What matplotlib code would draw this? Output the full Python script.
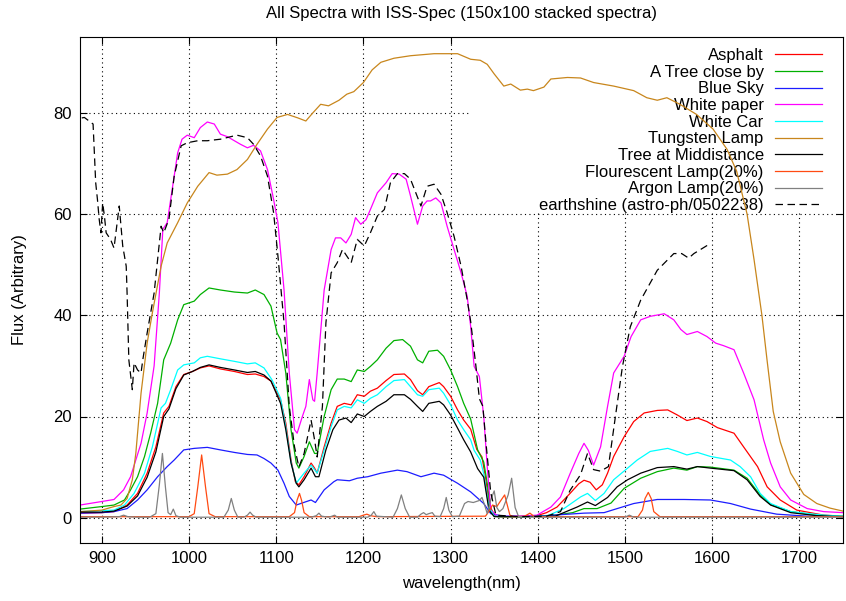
import matplotlib
matplotlib.use('Agg')
import matplotlib.pyplot as plt
from matplotlib.patches import Rectangle

plt.rcParams['font.family'] = ['Liberation Sans', 'DejaVu Sans']

# ---- datos (longitud de onda en nm, flujo arbitrario) ----
asphalt_wl = [875, 900, 914, 929, 941, 952, 962, 971, 977, 985, 994, 1004, 1013, 1023, 1036, 1052,
              1067, 1076, 1086, 1094, 1105, 1111, 1117, 1122, 1126, 1132, 1140, 1144, 1147, 1155,
              1163, 1170, 1178, 1186, 1193, 1201, 1208, 1216, 1226, 1235, 1247, 1254, 1262, 1268,
              1275, 1287, 1292, 1300, 1308, 1315, 1323, 1330, 1336, 1340, 1344, 1350, 1360, 1380,
              1399, 1410, 1422, 1437, 1447, 1453, 1460, 1467, 1474, 1480, 1487, 1499, 1510, 1522,
              1537, 1549, 1560, 1571, 1583, 1594, 1606, 1625, 1636, 1652, 1663, 1678, 1697, 1728, 1750]
asphalt_flux = [0.9, 1.0, 1.2, 2.5, 4.8, 8.8, 14.0, 20.7, 22.0, 25.9, 28.3, 28.9, 29.6, 30.0, 29.4, 28.9,
                28.3, 28.4, 27.9, 27.0, 23.3, 18.7, 11.4, 7.1, 6.5, 8.1, 10.8, 9.8, 8.8, 14.0,
                18.7, 22.0, 22.6, 22.3, 24.3, 24.0, 25.0, 25.6, 27.1, 28.3, 28.4, 27.3, 25.1, 24.3,
                25.9, 26.7, 25.9, 24.0, 21.3, 19.3, 17.5, 13.5, 12.0, 8.0, 2.8, 0.4, 0.2, 0.2,
                0.4, 1.0, 2.1, 4.8, 6.7, 7.4, 7.0, 5.5, 6.5, 8.8, 12.1, 16.0, 19.0, 20.7,
                21.2, 21.3, 20.3, 19.2, 19.7, 19.0, 17.8, 16.7, 14.0, 10.1, 6.1, 3.5, 1.5, 0.5, 0.3]

tree_wl = [875, 900, 914, 926, 933, 941, 949, 956, 964, 971, 979, 987, 994, 1006, 1013, 1023, 1036,
           1052, 1067, 1076, 1086, 1094, 1101, 1105, 1111, 1117, 1123, 1126, 1132, 1138, 1144, 1147,
           1155, 1163, 1170, 1178, 1186, 1193, 1201, 1208, 1216, 1226, 1235, 1245, 1254, 1262, 1268,
           1275, 1285, 1292, 1300, 1308, 1315, 1323, 1331, 1338, 1342, 1346, 1354, 1380, 1400, 1420,
           1440, 1453, 1468, 1484, 1499, 1518, 1537, 1556, 1571, 1583, 1598, 1625, 1640, 1655, 1667,
           1690, 1720, 1750]
tree_flux = [1.7, 2.2, 2.5, 3.5, 5.5, 8.1, 12.1, 16.7, 22.6, 31.2, 34.5, 39.1, 42.1, 42.8, 44.1, 45.4, 45.0,
             44.6, 44.4, 45.0, 44.1, 41.8, 36.5, 35.2, 28.6, 17.4, 10.8, 9.8, 12.1, 15.0, 12.7, 12.7,
             20.0, 25.3, 27.4, 27.4, 26.9, 29.2, 28.9, 29.9, 31.2, 33.5, 35.0, 35.2, 33.9, 31.2, 30.6,
             32.9, 33.1, 31.9, 29.2, 25.9, 22.6, 19.5, 13.4, 11.0, 6.8, 1.5, 0.2, 0.2, 0.3, 0.5,
             1.0, 1.8, 1.8, 2.9, 5.8, 7.8, 9.1, 9.8, 9.4, 10.1, 10.0, 9.4, 7.8, 4.5, 2.6,
             1.2, 0.5, 0.3]

sky_wl = [875, 900, 914, 929, 941, 952, 964, 975, 983, 994, 1006, 1021, 1036, 1052, 1067, 1078, 1086,
          1094, 1102, 1109, 1115, 1123, 1128, 1140, 1145, 1155, 1166, 1170, 1184, 1193, 1205, 1220,
          1239, 1250, 1266, 1281, 1292, 1308, 1323, 1338, 1346, 1360, 1400, 1453, 1476, 1491, 1510,
          1537, 1568, 1598, 1621, 1644, 1674, 1709, 1750]
sky_flux = [0.9, 1.0, 1.2, 1.8, 3.5, 5.5, 8.1, 10.1, 11.4, 13.4, 13.7, 13.9, 13.4, 12.9, 12.5, 12.4, 11.7,
            10.8, 9.4, 6.8, 4.2, 2.5, 2.8, 3.5, 3.0, 5.5, 7.1, 7.5, 7.3, 7.8, 8.1, 8.8,
            9.4, 9.1, 8.1, 8.8, 8.4, 6.8, 5.1, 2.8, 0.8, 0.3, 0.3, 0.9, 1.0, 1.8, 2.8,
            3.6, 3.6, 3.5, 2.8, 1.7, 0.7, 0.3, 0.2]

paper_wl = [875, 900, 914, 925, 933, 945, 952, 960, 966, 970, 975, 979, 987, 992, 998, 1006, 1013, 1021,
            1029, 1036, 1044, 1052, 1059, 1067, 1074, 1082, 1090, 1097, 1102, 1109, 1115, 1121, 1124,
            1130, 1134, 1138, 1142, 1144, 1147, 1155, 1163, 1168, 1174, 1180, 1186, 1191, 1197, 1203,
            1208, 1216, 1226, 1233, 1241, 1249, 1254, 1262, 1268, 1273, 1277, 1283, 1289, 1296, 1304,
            1312, 1319, 1323, 1327, 1333, 1338, 1342, 1346, 1354, 1380, 1399, 1415, 1426, 1437, 1447,
            1453, 1458, 1464, 1472, 1480, 1487, 1499, 1507, 1518, 1529, 1545, 1556, 1564, 1571, 1583,
            1594, 1604, 1613, 1625, 1636, 1648, 1659, 1667, 1678, 1690, 1709, 1728, 1750]
paper_flux = [2.5, 3.2, 3.6, 5.5, 8.1, 14.7, 20.7, 30.0, 44.4, 57.0, 58.3, 62.9, 72.1, 74.8, 75.6, 75.1, 77.1, 78.2,
              77.8, 75.8, 75.3, 74.5, 73.8, 73.1, 73.6, 72.5, 68.8, 62.9, 58.3, 45.0, 28.6, 17.4, 16.7,
              20.0, 22.0, 27.3, 23.3, 23.0, 28.6, 45.0, 53.0, 55.3, 55.3, 54.3, 56.0, 59.3, 58.0, 58.9,
              60.9, 64.2, 66.2, 68.0, 67.9, 66.9, 63.6, 58.0, 61.6, 62.6, 62.6, 63.2, 62.2, 57.6, 53.0,
              48.4, 43.8, 37.8, 29.9, 27.9, 20.0, 10.1, 1.5, 0.3, 0.3, 0.5, 2.1, 4.1, 8.7, 12.7,
              14.7, 13.3, 10.4, 14.0, 22.0, 28.6, 31.9, 35.8, 39.1, 39.8, 40.3, 39.1, 37.2, 36.2, 36.8,
              35.8, 34.5, 34.0, 33.2, 28.6, 23.3, 15.4, 10.8, 6.1, 3.5, 1.8, 1.2, 1.0]

car_wl = [875, 900, 914, 926, 937, 949, 958, 968, 973, 979, 987, 994, 1006, 1013, 1021, 1036, 1052, 1067,
          1076, 1086, 1095, 1105, 1111, 1117, 1123, 1126, 1132, 1140, 1147, 1155, 1163, 1170, 1178, 1186,
          1193, 1201, 1208, 1216, 1226, 1235, 1247, 1254, 1262, 1268, 1275, 1287, 1292, 1300, 1308, 1315,
          1323, 1327, 1334, 1338, 1344, 1350, 1380, 1410, 1430, 1449, 1457, 1466, 1476, 1487, 1503, 1514,
          1529, 1549, 1560, 1571, 1583, 1598, 1621, 1632, 1644, 1655, 1667, 1690, 1728, 1750]
car_flux = [1.2, 1.4, 1.5, 2.5, 4.8, 8.8, 14.0, 21.7, 22.6, 25.3, 29.2, 30.2, 30.6, 31.6, 31.9, 31.4, 30.9, 30.4,
            30.6, 29.6, 27.3, 23.6, 18.0, 11.0, 6.8, 7.5, 8.8, 10.4, 8.8, 13.4, 18.0, 21.3, 22.0, 21.7,
            23.3, 22.6, 23.6, 24.3, 25.9, 27.1, 27.3, 25.9, 24.3, 24.0, 25.3, 25.6, 24.6, 22.3, 19.3, 17.4,
            15.4, 13.3, 11.4, 8.7, 2.1, 0.3, 0.2, 0.3, 1.8, 4.1, 4.8, 3.4, 4.8, 7.5, 9.8, 11.4,
            13.1, 13.7, 13.1, 12.4, 12.9, 12.1, 11.4, 10.1, 8.1, 4.8, 2.8, 1.2, 0.5, 0.3]

tungsten_wl = [875, 900, 914, 922, 929, 935, 939, 945, 952, 958, 968, 975, 987, 998, 1010, 1023, 1032, 1044,
               1055, 1067, 1078, 1090, 1101, 1113, 1125, 1134, 1142, 1151, 1160, 1172, 1181, 1189, 1200,
               1210, 1220, 1235, 1254, 1281, 1300, 1308, 1323, 1334, 1342, 1350, 1361, 1369, 1380, 1388,
               1395, 1407, 1415, 1434, 1449, 1464, 1487, 1510, 1525, 1537, 1548, 1563, 1582, 1601, 1617,
               1628, 1640, 1648, 1657, 1663, 1670, 1678, 1690, 1705, 1720, 1735, 1750]
tungsten_flux = [1.2, 1.5, 2.2, 2.5, 3.8, 7.5, 12.7, 24.6, 34.5, 40.5, 49.7, 54.3, 58.3, 62.2, 65.5, 68.2, 67.7, 67.9,
                 68.8, 70.8, 73.8, 76.8, 79.1, 79.7, 79.0, 78.4, 80.0, 81.7, 81.4, 82.5, 83.7, 84.2, 86.0,
                 88.5, 90.0, 90.8, 91.3, 91.7, 91.7, 91.7, 90.6, 90.4, 89.6, 87.7, 85.3, 85.7, 84.5, 84.7,
                 84.4, 85.1, 86.7, 87.0, 86.9, 86.0, 85.3, 84.4, 83.0, 82.5, 83.0, 81.7, 79.7, 76.8, 72.8,
                 68.5, 60.0, 51.0, 40.0, 31.0, 21.0, 15.0, 8.8, 4.6, 2.8, 1.9, 1.3]

middist_wl = [875, 900, 914, 929, 941, 952, 962, 971, 977, 985, 994, 1004, 1013, 1023, 1036, 1052, 1067, 1076,
              1086, 1094, 1105, 1111, 1117, 1123, 1126, 1132, 1140, 1145, 1149, 1157, 1165, 1172, 1180, 1186,
              1193, 1201, 1208, 1216, 1226, 1235, 1247, 1254, 1262, 1268, 1275, 1287, 1292, 1300, 1308, 1315,
              1323, 1331, 1338, 1344, 1350, 1380, 1420, 1445, 1457, 1466, 1480, 1491, 1503, 1518, 1537, 1556,
              1571, 1583, 1598, 1625, 1640, 1655, 1667, 1690, 1720, 1750]
middist_flux = [1.1, 1.1, 1.3, 2.3, 4.3, 8.0, 13.0, 20.0, 21.5, 25.5, 28.2, 28.9, 29.7, 30.2, 29.7, 29.2, 28.7, 28.9,
                28.2, 27.0, 22.6, 17.4, 10.8, 6.8, 6.1, 7.5, 9.8, 8.1, 8.1, 13.4, 17.4, 19.3, 19.7, 18.8,
                20.5, 20.0, 21.0, 22.0, 23.0, 24.3, 24.3, 23.4, 22.0, 21.0, 22.6, 23.0, 22.3, 20.3, 17.7, 15.4,
                13.0, 9.7, 8.0, 1.5, 0.2, 0.2, 0.3, 2.1, 3.1, 2.4, 4.0, 6.1, 7.5, 8.8, 9.9, 10.1,
                9.6, 10.1, 9.8, 9.3, 7.5, 4.2, 2.5, 1.0, 0.4, 0.2]

fluor_wl = [875, 1000, 1006, 1010, 1014.5, 1019, 1023, 1030, 1115, 1121, 1124, 1126.7, 1129, 1132, 1138,
            1195, 1200, 1204, 1208, 1215, 1340, 1345, 1348, 1353, 1358, 1362, 1365, 1368, 1372, 1385,
            1391, 1396, 1515, 1520, 1523, 1526.7, 1530, 1533, 1540, 1750]
fluor_flux = [0.2, 0.2, 0.8, 6.0, 12.4, 6.0, 0.8, 0.2, 0.2, 1.0, 3.5, 4.8, 3.5, 1.0, 0.2,
              0.2, 0.5, 0.7, 0.4, 0.2, 0.3, 1.5, 2.5, 2.2, 3.5, 4.5, 2.5, 0.5, 0.2, 0.3,
              0.9, 0.2, 0.2, 1.5, 3.8, 5.0, 3.8, 1.2, 0.2, 0.2]

argon_wl = [875, 900, 920, 925, 930, 940, 955, 962, 966, 969.5, 973, 976, 979, 982, 985, 990, 1040, 1045,
            1048.5, 1052, 1056, 1063, 1067, 1070, 1073, 1077, 1140, 1146, 1149, 1152, 1160, 1164, 1167,
            1170, 1205, 1209, 1212, 1215, 1234, 1239, 1243.5, 1248, 1253, 1262, 1266, 1269, 1272, 1275,
            1279, 1282, 1288, 1292, 1295, 1298, 1302, 1310, 1316, 1320, 1326, 1333, 1336, 1339, 1342,
            1346, 1350, 1353, 1356, 1360, 1366, 1370, 1374, 1378, 1400, 1460, 1500, 1505, 1510, 1600, 1750]
argon_flux = [0.1, 0.1, 0.2, 0.5, 0.2, 0.1, 0.1, 0.8, 6.5, 12.7, 6.0, 1.0, 0.6, 1.7, 0.4, 0.1, 0.1, 1.5,
              3.8, 1.5, 0.1, 0.1, 0.5, 1.1, 0.5, 0.1, 0.1, 0.4, 0.9, 0.3, 0.1, 0.3, 0.5,
              0.1, 0.1, 0.5, 1.2, 0.3, 0.1, 1.8, 4.5, 1.8, 0.1, 0.1, 0.7, 1.0, 0.6, 0.8,
              1.0, 0.3, 0.2, 1.8, 4.0, 1.5, 0.2, 0.3, 2.8, 3.2, 3.0, 3.4, 4.0, 2.5, 0.8,
              3.5, 5.3, 2.0, 1.2, 1.8, 4.5, 7.8, 2.0, 0.2, 0.1, 0.1, 0.1, 0.5, 0.1, 0.1, 0.1]

earth_wl = [877, 880, 890, 893, 895, 897, 899, 901, 903, 905, 910, 914, 920, 924, 928, 929, 931, 935, 937,
            941, 945, 947, 952, 960, 968, 971, 977, 983, 991, 998, 1010, 1021, 1036, 1055, 1067, 1074,
            1082, 1090, 1097, 1102, 1109, 1115, 1121, 1126, 1132, 1140, 1144, 1147, 1153, 1157, 1163,
            1170, 1176, 1186, 1193, 1201, 1208, 1216, 1224, 1231, 1239, 1247, 1254, 1266, 1273, 1281,
            1289, 1296, 1304, 1312, 1319, 1323, 1329, 1333, 1337, 1341, 1346, 1352, 1380, 1410, 1426,
            1437, 1449, 1457, 1464, 1472, 1481, 1489, 1497, 1506, 1518, 1537, 1556, 1565, 1573, 1579, 1598]
earth_flux = [79.0, 79.1, 77.8, 66.2, 62.9, 59.0, 56.3, 62.2, 59.6, 56.3, 55.0, 53.3, 61.6, 53.7, 49.7, 44.4, 31.2, 25.3, 30.6,
              29.2, 28.6, 31.2, 36.5, 44.4, 57.6, 56.3, 59.0, 67.5, 73.5, 74.1, 74.5, 74.5, 74.8, 75.6, 75.1, 73.8,
              71.5, 67.5, 60.3, 51.7, 38.5, 22.0, 14.0, 10.0, 12.7, 19.3, 15.4, 12.0, 22.0, 38.5, 48.4,
              50.4, 53.0, 50.4, 55.0, 53.7, 56.3, 59.6, 60.9, 66.2, 68.0, 68.0, 66.9, 61.6, 65.5, 65.9,
              63.9, 60.3, 55.6, 49.7, 43.1, 38.8, 30.0, 23.5, 22.0, 14.0, 5.0, 0.5, 0.2, 0.3, 1.2,
              5.4, 8.5, 12.7, 9.5, 9.2, 10.1, 20.0, 29.8, 37.7, 43.0, 48.9, 52.2, 52.2, 51.3, 52.2, 54.2]

# (etiqueta, x, y, color, estilo)
series = [
    ('Asphalt', asphalt_wl, asphalt_flux, '#ff0000', '-'),
    ('A Tree close by', tree_wl, tree_flux, '#00b000', '-'),
    ('Blue Sky', sky_wl, sky_flux, '#1c1cff', '-'),
    ('White paper', paper_wl, paper_flux, '#ff00ff', '-'),
    ('White Car', car_wl, car_flux, '#00ffff', '-'),
    ('Tungsten Lamp', tungsten_wl, tungsten_flux, '#c8861c', '-'),
    ('Tree at Middistance', middist_wl, middist_flux, '#000000', '-'),
    ('Flourescent Lamp(20%)', fluor_wl, fluor_flux, '#ff4a12', '-'),
    ('Argon Lamp(20%)', argon_wl, argon_flux, '#808080', '-'),
    ('earthshine (astro-ph/0502238)', earth_wl, earth_flux, '#000000', (0, (6, 3.6))),
]

fig = plt.figure(figsize=(8.46, 6.01), dpi=100)
ax = fig.add_axes([80 / 846, 58 / 601, 763 / 846, 506 / 601])

for label, x, y, color, ls in series:
    ax.plot(x, y, color=color, lw=0.9, linestyle=ls, label=label)

ax.set_xlim(875, 1750)
ax.set_ylim(-5, 95)
ax.set_xticks(range(900, 1701, 100))
ax.set_yticks(range(0, 81, 20))

# rejilla punteada, como en gnuplot
ax.set_axisbelow(True)
ax.grid(True, color='black', linestyle=(0, (1, 3)), linewidth=0.8)

# fondo opaco de la leyenda (tapa la rejilla)
ax.add_patch(Rectangle((0.5125, 0.654), 0.4875, 0.346, transform=ax.transAxes,
                       facecolor='white', edgecolor='none', zorder=1))

ax.tick_params(direction='in', length=5, width=0.8, top=True, right=True,
               labelsize=12, pad=6)
for sp in ax.spines.values():
    sp.set_linewidth(0.8)

ax.set_title('All Spectra with ISS-Spec (150x100 stacked spectra)', fontsize=12, pad=14)
ax.set_xlabel('wavelength(nm)', fontsize=12, labelpad=7)
ax.set_ylabel('Flux (Arbitrary)', fontsize=12, labelpad=19)

leg = ax.legend(loc='upper right', bbox_to_anchor=(0.9725, 0.978), markerfirst=False,
                frameon=False, fontsize=12, handlelength=2.8, handletextpad=0.7,
                labelspacing=0.1, borderpad=0, borderaxespad=0)
leg.set_zorder(1.5)

fig.savefig('out.png', dpi=100)
